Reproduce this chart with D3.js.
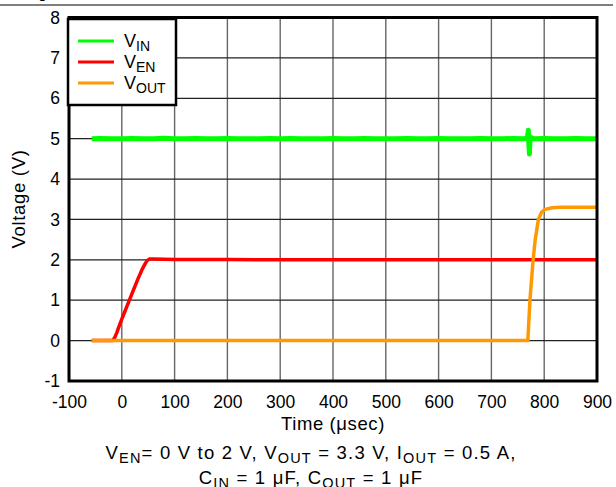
<!DOCTYPE html>
<html>
<head>
<meta charset="utf-8">
<script src="https://cdn.jsdelivr.net/npm/d3@7"></script>
<style>
  body { margin: 0; background: #fff; }
  svg { display: block; font-family: "Liberation Sans", Arial, sans-serif; }
</style>
</head>
<body>
<svg id="chart" width="616" height="487"></svg>
<script>
// ----- DATA -----
var xTicks = [-100, 0, 100, 200, 300, 400, 500, 600, 700, 800, 900];
var yTicks = [-1, 0, 1, 2, 3, 4, 5, 6, 7, 8];

// V_IN : time (usec), voltage
var vinTime = [-57, -40, -20, 0, 20, 40, 60, 80, 100, 120, 140, 160, 180, 200, 220, 240, 260, 280, 300,
    320, 340, 360, 380, 400, 420, 440, 460, 480, 500, 520, 540, 560, 580, 600, 620, 640, 660, 680,
    700, 720, 740, 760, 768, 770, 771, 772, 773, 775, 780, 800, 820, 840, 860, 880, 900];
var vinVolt = [5.00, 5.005, 4.995, 5.00, 5.005, 4.995, 5.00, 5.01, 5.00, 4.995, 5.005, 5.00, 4.995, 5.005, 5.00,
    5.00, 4.995, 5.005, 5.00, 5.005, 4.995, 5.00, 5.00, 5.005, 4.995, 5.00, 5.005, 5.00, 4.995, 5.00, 5.005,
    5.00, 4.995, 5.005, 5.00, 4.995, 5.00, 5.005, 5.00, 4.995, 5.005, 5.00, 5.01, 5.21, 4.85, 4.62, 4.95,
    5.03, 5.00, 5.005, 4.995, 5.00, 5.005, 4.995, 5.00];

// V_EN : time (usec), voltage
var venTime = [-57, -18, -14, -10, -5, 0, 7, 14, 22, 30, 38, 44, 48, 52, 60, 100, 200, 300, 400, 500,
    600, 700, 800, 900];
var venVolt = [0.00, 0.00, 0.06, 0.18, 0.36, 0.53, 0.76, 0.99, 1.25, 1.51, 1.75, 1.90, 1.98, 2.02, 2.02,
    2.01, 2.01, 2.00, 2.00, 2.00, 2.00, 2.00, 2.00, 2.00];

// V_OUT : time (usec), voltage
var voutTime = [-57, 0, 100, 200, 300, 400, 500, 600, 700, 769, 771, 773, 776, 779, 783, 789, 795, 802,
    815, 830, 860, 900];
var voutVolt = [0.00, 0.00, 0.00, 0.00, 0.00, 0.00, 0.00, 0.00, 0.00, 0.00, 0.50, 1.00, 1.50, 2.00, 2.50,
    3.00, 3.18, 3.25, 3.29, 3.30, 3.30, 3.30];

var seriesNames = ["IN", "EN", "OUT"];
var seriesColors = ["#00ff00", "#ff0000", "#ff9900"];

// ----- CHART -----
var svg = d3.select("#chart");
var plotLeft = 69, plotRight = 597, plotTop = 17.5, plotBottom = 381;
var font = "Liberation Sans, Arial, sans-serif";

var x = d3.scaleLinear().domain([-100, 900]).range([plotLeft, plotRight]);
var y = d3.scaleLinear().domain([-1, 8]).range([plotBottom, plotTop]);

// page rule at the top
svg.append("line")
    .attr("x1", 0).attr("x2", 613).attr("y1", 5).attr("y2", 5)
    .attr("stroke", "#000").attr("stroke-width", 1.2);
svg.append("text")
    .attr("x", 38).attr("y", -2)
    .attr("font-size", 16)
    .text("g");

// grid lines
svg.append("g")
    .selectAll("line")
    .data(xTicks)
    .enter().append("line")
    .attr("x1", function(d) { return x(d); })
    .attr("x2", function(d) { return x(d); })
    .attr("y1", plotTop).attr("y2", plotBottom)
    .attr("stroke", "#666").attr("stroke-width", 1.4);

svg.append("g")
    .selectAll("line")
    .data(yTicks)
    .enter().append("line")
    .attr("x1", plotLeft).attr("x2", plotRight)
    .attr("y1", function(d) { return y(d); })
    .attr("y2", function(d) { return y(d); })
    .attr("stroke", "#222").attr("stroke-width", 1.2);

// tick labels (plain hyphen for negatives, like the reference)
var plain = function(d) { return String(d); };

var yAxis = d3.axisLeft(y).tickValues(yTicks).tickSize(0).tickPadding(9).tickFormat(plain);
var gy = svg.append("g").attr("transform", "translate(" + plotLeft + ",0)").call(yAxis);
gy.select(".domain").remove();
gy.selectAll("text").attr("font-size", 17.5).attr("font-family", font).attr("fill", "#000");

var xAxis = d3.axisBottom(x).tickValues(xTicks).tickSize(0).tickPadding(15).tickFormat(plain);
var gx = svg.append("g").attr("transform", "translate(0," + plotBottom + ")").call(xAxis);
gx.select(".domain").remove();
gx.selectAll("text").attr("font-size", 17.5).attr("font-family", font).attr("fill", "#000");

// traces
var line = d3.line()
    .x(function(d) { return x(d[0]); })
    .y(function(d) { return y(d[1]); });

var traces = [
    d3.zip(vinTime, vinVolt),
    d3.zip(venTime, venVolt),
    d3.zip(voutTime, voutVolt)
];

svg.append("clipPath").attr("id", "plotclip")
    .append("rect").attr("x", plotLeft).attr("y", plotTop)
    .attr("width", plotRight - plotLeft).attr("height", plotBottom - plotTop);

svg.append("g").attr("clip-path", "url(#plotclip)")
    .selectAll("path")
    .data(traces)
    .enter().append("path")
    .attr("d", line)
    .attr("fill", "none")
    .attr("stroke", function(d, i) { return seriesColors[i]; })
    .attr("stroke-width", function(d, i) { return i == 0 ? 5 : 3.5; })
    .attr("stroke-linejoin", "round");

// plot border
svg.append("rect")
    .attr("x", plotLeft).attr("y", plotTop)
    .attr("width", plotRight - plotLeft).attr("height", plotBottom - plotTop)
    .attr("fill", "none").attr("stroke", "#000").attr("stroke-width", 3);

// legend
var legend = svg.append("g");
legend.append("rect")
    .attr("x", 68).attr("y", 19).attr("width", 108).attr("height", 86)
    .attr("fill", "#fff").attr("stroke", "#000").attr("stroke-width", 2.5);

var item = legend.selectAll(".item")
    .data(seriesNames)
    .enter().append("g")
    .attr("class", "item")
    .attr("transform", function(d, i) { return "translate(0," + (41 + i * 21) + ")"; });

item.append("line")
    .attr("x1", 78).attr("x2", 114).attr("y1", 0).attr("y2", 0)
    .attr("stroke", function(d, i) { return seriesColors[i]; })
    .attr("stroke-width", 3);

var lt = item.append("text")
    .attr("x", 124).attr("y", 6)
    .attr("font-size", 18);
lt.append("tspan").text("V");
lt.append("tspan").attr("font-size", 14).attr("dy", 4).text(function(d) { return d; });

// axis titles
svg.append("text")
    .attr("transform", "translate(25,199) rotate(-90)")
    .attr("text-anchor", "middle")
    .attr("font-size", 18.5)
    .attr("letter-spacing", 0.7)
    .text("Voltage (V)");

svg.append("text")
    .attr("x", 333).attr("y", 430)
    .attr("text-anchor", "middle")
    .attr("font-size", 18.5)
    .attr("letter-spacing", 0.6)
    .text("Time (\u03bcsec)");

// caption with subscripts
function caption(parts, ypos) {
    var t = svg.append("text")
        .attr("x", 311).attr("y", ypos)
        .attr("text-anchor", "middle")
        .attr("font-size", 18.5)
        .attr("letter-spacing", 1.2);
    parts.forEach(function(p) {
        if (p.sub) {
            t.append("tspan").attr("font-size", 14.5).attr("dy", 4).text(p.sub);
            t.append("tspan").attr("dy", -4).text(p.txt);
        } else {
            t.append("tspan").text(p.txt);
        }
    });
}

caption([
    { txt: "V" }, { sub: "EN", txt: "= 0 V to 2 V, V" },
    { sub: "OUT", txt: " = 3.3 V, I" }, { sub: "OUT", txt: " = 0.5 A," }
], 459);
caption([
    { txt: "C" }, { sub: "IN", txt: " = 1 \u03bcF, C" }, { sub: "OUT", txt: " = 1 \u03bcF" }
], 484);
</script>
</body>
</html>
